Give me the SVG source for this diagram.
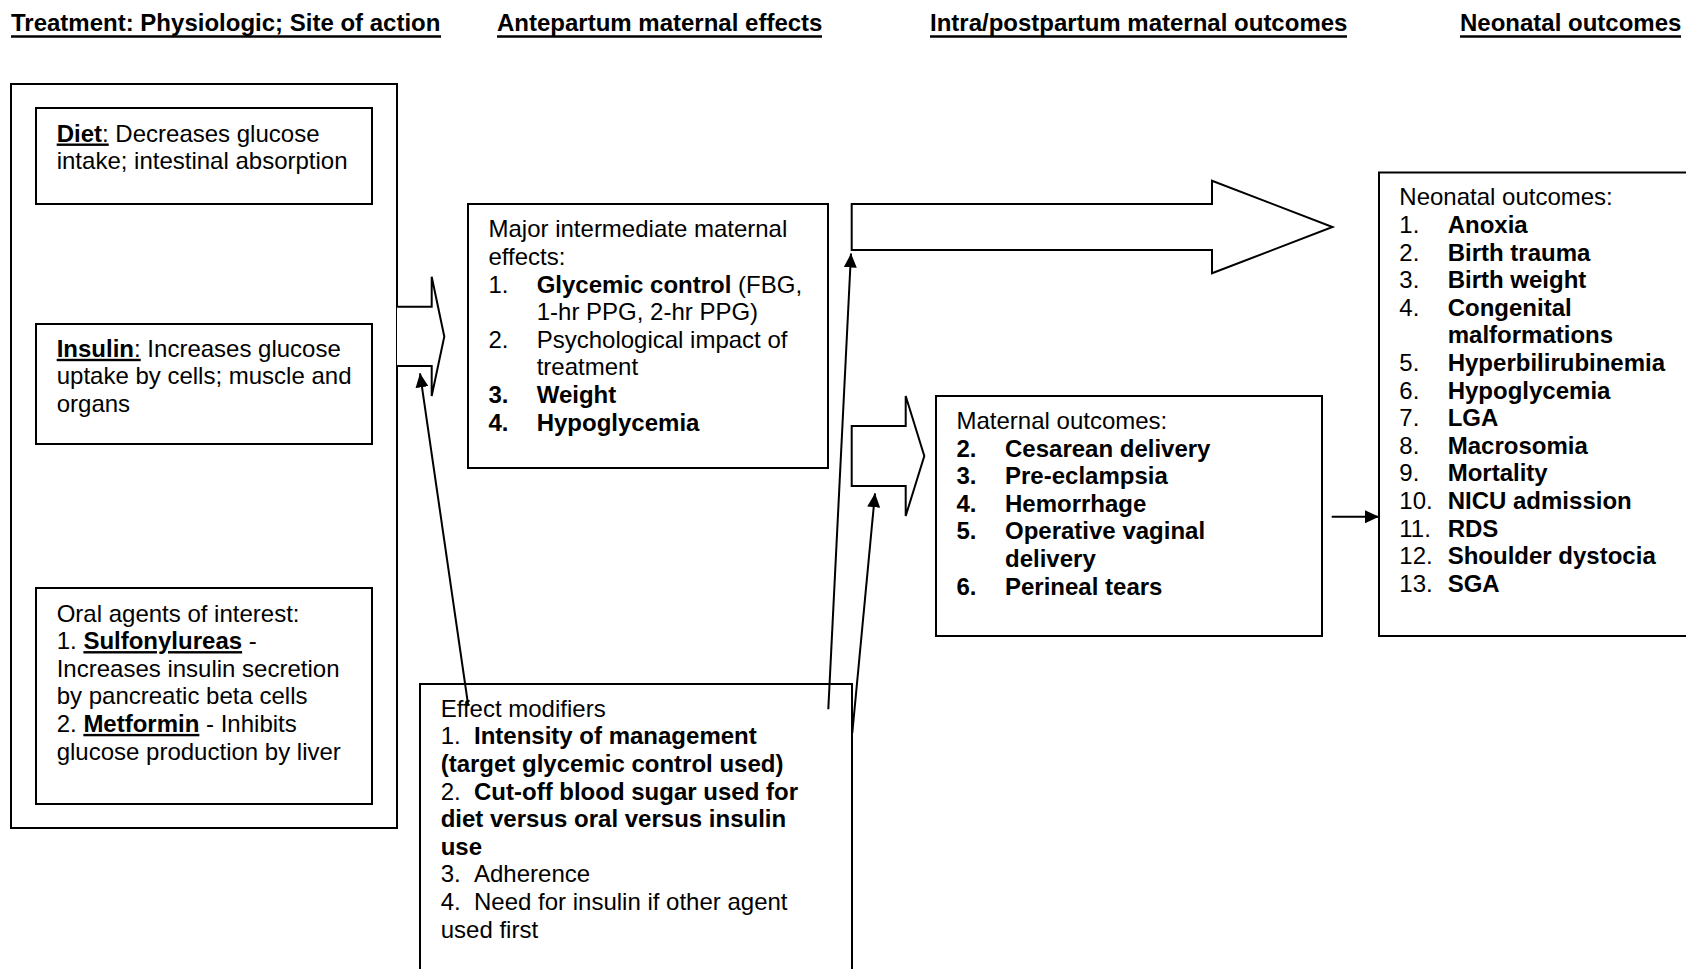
<svg xmlns="http://www.w3.org/2000/svg" width="1686" height="969" viewBox="0 0 1686 969">
<defs>
<style>
text{font-family:"Liberation Sans",Arial,sans-serif;font-size:24px;fill:#000}
.h{font-weight:bold}
.hu{stroke:#000;stroke-width:2.6}
.b{font-weight:bold}
.u{text-decoration:underline}
.box{fill:#fff;stroke:#000;stroke-width:2}
.blk{fill:#fff;stroke:#000;stroke-width:2;stroke-linejoin:miter}
.ln{stroke:#000;stroke-width:2;fill:none}
</style>
<marker id="ah" markerUnits="userSpaceOnUse" markerWidth="15" markerHeight="14" refX="14" refY="6.5" orient="auto" viewBox="0 0 15 14">
<path d="M0,0 L14,6.5 L0,13 z" fill="#000"/>
</marker>
</defs>
<rect x="0" y="0" width="1686" height="969" fill="#fff"/>

<g id="headers">
<text class="h" x="11" y="31">Treatment: Physiologic; Site of action</text>
<line class="hu" x1="11" y1="36.5" x2="441" y2="36.5"/>
<text class="h" x="497" y="31">Antepartum maternal effects</text>
<line class="hu" x1="497" y1="36.5" x2="822" y2="36.5"/>
<text class="h" x="930" y="31">Intra/postpartum maternal outcomes</text>
<line class="hu" x1="930" y1="36.5" x2="1347" y2="36.5"/>
<text class="h" x="1460" y="31">Neonatal outcomes</text>
<line class="hu" x1="1460" y1="36.5" x2="1681" y2="36.5"/>
</g>

<g id="treatment">
<rect class="box" x="11" y="84" width="386" height="744"/>
</g>

<g id="diet">
<rect class="box" x="36" y="108" width="336" height="96"/>
<text x="56.7" y="141.5"><tspan class="b u">Diet</tspan><tspan class="u">:</tspan> Decreases glucose</text>
<text x="56.7" y="169.1">intake; intestinal absorption</text>
</g>

<g id="insulin">
<rect class="box" x="36" y="324" width="336" height="120"/>
<text x="56.7" y="356.8"><tspan class="b u">Insulin</tspan><tspan class="u">:</tspan> Increases glucose</text>
<text x="56.7" y="384.4">uptake by cells; muscle and</text>
<text x="56.7" y="412">organs</text>
</g>

<g id="oral">
<rect class="box" x="36" y="588" width="336" height="216"/>
<text x="56.7" y="621.5">Oral agents of interest:</text>
<text x="56.7" y="649.1">1. <tspan class="b u">Sulfonylureas</tspan> -</text>
<text x="56.7" y="676.7">Increases insulin secretion</text>
<text x="56.7" y="704.3">by pancreatic beta cells</text>
<text x="56.7" y="731.9">2. <tspan class="b u">Metformin</tspan> - Inhibits</text>
<text x="56.7" y="759.5">glucose production by liver</text>
</g>

<g id="major">
<rect class="box" x="468" y="204" width="360" height="264"/>
<text x="488.5" y="237.3">Major intermediate maternal</text>
<text x="488.5" y="264.9">effects:</text>
<text x="488.5" y="292.5">1.</text>
<text x="536.7" y="292.5"><tspan class="b">Glycemic control</tspan> (FBG,</text>
<text x="536.7" y="320.1">1-hr PPG, 2-hr PPG)</text>
<text x="488.5" y="347.7">2.</text>
<text x="536.7" y="347.7">Psychological impact of</text>
<text x="536.7" y="375.3">treatment</text>
<text class="b" x="488.5" y="402.9">3.</text>
<text class="b" x="536.7" y="402.9">Weight</text>
<text class="b" x="488.5" y="430.5">4.</text>
<text class="b" x="536.7" y="430.5">Hypoglycemia</text>
</g>

<g id="modifiers">
<rect class="box" x="420" y="684" width="432" height="300"/>
<text x="440.7" y="716.7">Effect modifiers</text>
<text x="440.7" y="744.3">1.</text>
<text class="b" x="474" y="744.3">Intensity of management</text>
<text class="b" x="440.7" y="771.9">(target glycemic control used)</text>
<text x="440.7" y="799.5">2.</text>
<text class="b" x="474" y="799.5">Cut-off blood sugar used for</text>
<text class="b" x="440.7" y="827.1">diet versus oral versus insulin</text>
<text class="b" x="440.7" y="854.7">use</text>
<text x="440.7" y="882.3">3.</text>
<text x="474" y="882.3">Adherence</text>
<text x="440.7" y="909.9">4.</text>
<text x="474" y="909.9">Need for insulin if other agent</text>
<text x="440.7" y="937.5">used first</text>
</g>

<g id="maternal">
<rect class="box" x="936" y="396" width="386" height="240"/>
<text x="956.5" y="429">Maternal outcomes:</text>
<text class="b" x="956.5" y="456.6">2.</text><text class="b" x="1005" y="456.6">Cesarean delivery</text>
<text class="b" x="956.5" y="484.2">3.</text><text class="b" x="1005" y="484.2">Pre-eclampsia</text>
<text class="b" x="956.5" y="511.8">4.</text><text class="b" x="1005" y="511.8">Hemorrhage</text>
<text class="b" x="956.5" y="539.4">5.</text><text class="b" x="1005" y="539.4">Operative vaginal</text>
<text class="b" x="1005" y="567">delivery</text>
<text class="b" x="956.5" y="594.6">6.</text><text class="b" x="1005" y="594.6">Perineal tears</text>
</g>

<g id="neonatal">
<rect class="box" x="1379" y="172.5" width="330" height="463.5"/>
<text x="1399.3" y="205.3">Neonatal outcomes:</text>
<text x="1399.3" y="232.9">1.</text><text class="b" x="1447.7" y="232.9">Anoxia</text>
<text x="1399.3" y="260.5">2.</text><text class="b" x="1447.7" y="260.5">Birth trauma</text>
<text x="1399.3" y="288.1">3.</text><text class="b" x="1447.7" y="288.1">Birth weight</text>
<text x="1399.3" y="315.7">4.</text><text class="b" x="1447.7" y="315.7">Congenital</text>
<text class="b" x="1447.7" y="343.3">malformations</text>
<text x="1399.3" y="370.9">5.</text><text class="b" x="1447.7" y="370.9">Hyperbilirubinemia</text>
<text x="1399.3" y="398.5">6.</text><text class="b" x="1447.7" y="398.5">Hypoglycemia</text>
<text x="1399.3" y="426.1">7.</text><text class="b" x="1447.7" y="426.1">LGA</text>
<text x="1399.3" y="453.7">8.</text><text class="b" x="1447.7" y="453.7">Macrosomia</text>
<text x="1399.3" y="481.3">9.</text><text class="b" x="1447.7" y="481.3">Mortality</text>
<text x="1399.3" y="508.9">10.</text><text class="b" x="1447.7" y="508.9">NICU admission</text>
<text x="1399.3" y="536.5">11.</text><text class="b" x="1447.7" y="536.5">RDS</text>
<text x="1399.3" y="564.1">12.</text><text class="b" x="1447.7" y="564.1">Shoulder dystocia</text>
<text x="1399.3" y="591.7">13.</text><text class="b" x="1447.7" y="591.7">SGA</text>
</g>

<g id="connectors">
<polyline class="blk" points="397,306.7 431.7,306.7 431.7,276.7 444.3,336.5 431.7,396 431.7,366 397,366"/>
<polygon class="blk" points="851.7,204 1212,204 1212,180.7 1332.5,227 1212,273.3 1212,250 851.7,250"/>
<polygon class="blk" points="851.7,426 905.7,426 905.7,396 924.3,456 905.7,516 905.7,486 851.7,486"/>
<line class="ln" x1="468.3" y1="706" x2="420" y2="373.3" marker-end="url(#ah)"/>
<line class="ln" x1="828.3" y1="709.3" x2="851" y2="253.5" marker-end="url(#ah)"/>
<line class="ln" x1="852.3" y1="733" x2="875" y2="493.3" marker-end="url(#ah)"/>
<line class="ln" x1="1331.7" y1="516.7" x2="1379" y2="516.7" marker-end="url(#ah)"/>
</g>
</svg>
